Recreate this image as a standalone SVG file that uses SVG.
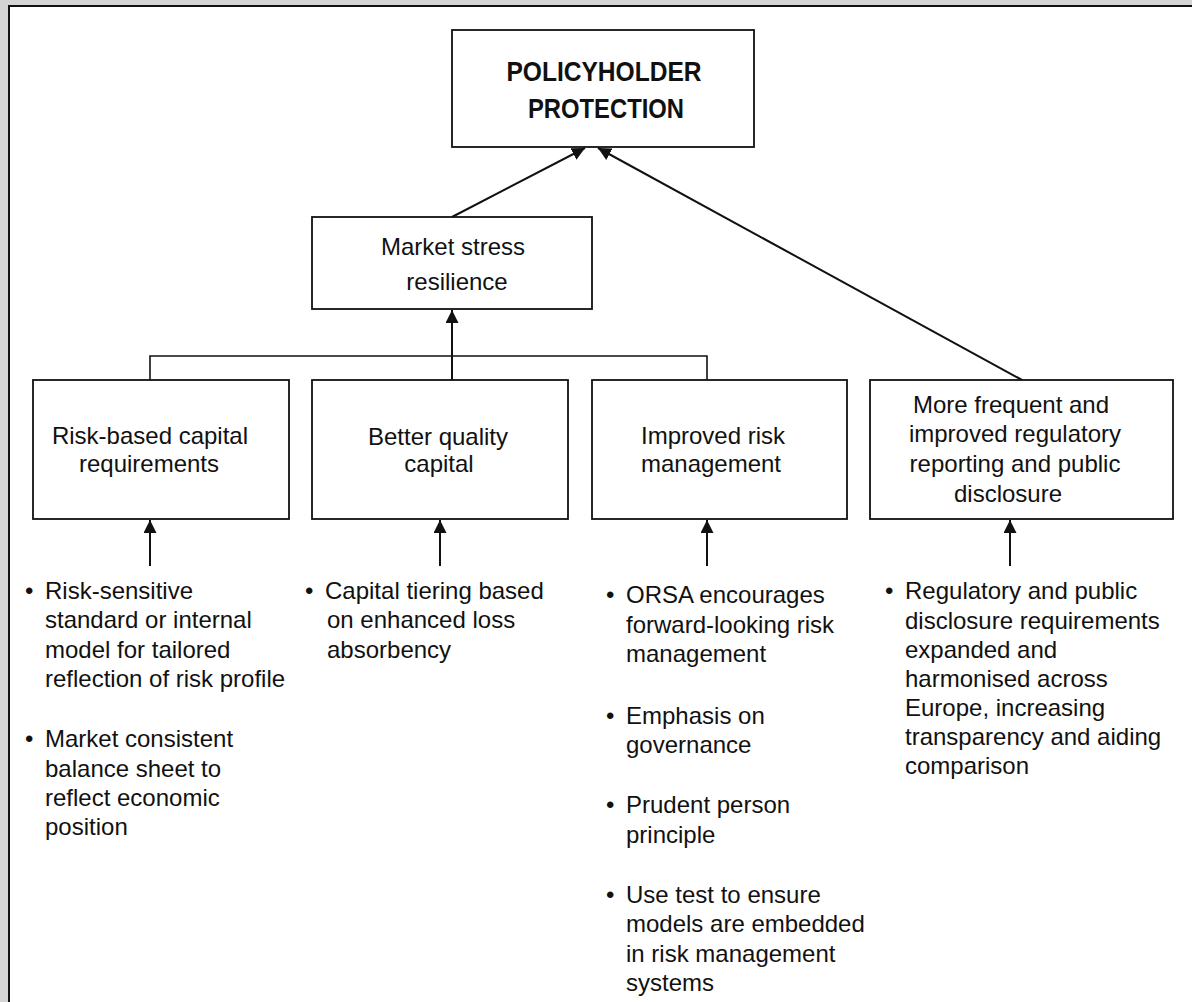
<svg xmlns="http://www.w3.org/2000/svg" width="1192" height="1002" viewBox="0 0 1192 1002">
<style>
.box{fill:#fff;stroke:#111;stroke-width:1.8}
.lbl{font-family:"Liberation Sans",Arial,sans-serif;font-size:24px;fill:#111;text-anchor:middle}
.title{font-family:"Liberation Sans",Arial,sans-serif;font-size:28px;font-weight:bold;fill:#111;text-anchor:middle}
.txt{font-family:"Liberation Sans",Arial,sans-serif;font-size:24px;fill:#111}
.arr{fill:none;stroke:#111;stroke-width:2;marker-end:url(#ah)}
.ln{fill:none;stroke:#111;stroke-width:1.6}
</style>
<defs>
<marker id="ah" markerUnits="userSpaceOnUse" markerWidth="14" markerHeight="13" refX="13" refY="6.5" orient="auto">
<path d="M0,0 L13,6.5 L0,13 z" fill="#111"/>
</marker>
</defs>
<rect x="0" y="0" width="1192" height="1002" fill="#d4d4d4"/>
<rect x="9" y="6" width="1200" height="1010" fill="#fff" stroke="#111" stroke-width="2"/>

<g id="connectors">
<line class="arr" x1="452" y1="217" x2="585" y2="148"/>
<line class="arr" x1="1022" y1="380" x2="598" y2="148"/>
<polyline class="ln" points="150,380 150,356 707,356 707,380"/>
<line class="arr" x1="452" y1="380" x2="452" y2="310"/>
<line class="arr" x1="150" y1="566" x2="150" y2="520"/>
<line class="arr" x1="440" y1="566" x2="440" y2="520"/>
<line class="arr" x1="707" y1="566" x2="707" y2="520"/>
<line class="arr" x1="1010" y1="566" x2="1010" y2="520"/>
</g>

<g id="policyholder">
<rect class="box" x="452" y="30" width="302" height="117"/>
<text class="title" x="604" y="81" textLength="195" lengthAdjust="spacingAndGlyphs">POLICYHOLDER</text>
<text class="title" x="606" y="118" textLength="156" lengthAdjust="spacingAndGlyphs">PROTECTION</text>
</g>

<g id="market">
<rect class="box" x="312" y="217" width="280" height="92"/>
<text class="lbl" x="453" y="255">Market stress</text>
<text class="lbl" x="457" y="290">resilience</text>
</g>

<g id="riskcap">
<rect class="box" x="33" y="380" width="256" height="139"/>
<text class="lbl" x="150" y="444">Risk-based capital</text>
<text class="lbl" x="149" y="472">requirements</text>
</g>

<g id="better">
<rect class="box" x="312" y="380" width="256" height="139"/>
<text class="lbl" x="438" y="445">Better quality</text>
<text class="lbl" x="439" y="472">capital</text>
</g>

<g id="improved">
<rect class="box" x="592" y="380" width="255" height="139"/>
<text class="lbl" x="713" y="444">Improved risk</text>
<text class="lbl" x="711" y="472">management</text>
</g>

<g id="reporting">
<rect class="box" x="870" y="380" width="303" height="139"/>
<text class="lbl" x="1011" y="413">More frequent and</text>
<text class="lbl" x="1015" y="442">improved regulatory</text>
<text class="lbl" x="1015" y="472">reporting and public</text>
<text class="lbl" x="1008" y="502">disclosure</text>
</g>

<g id="bullets-riskcap" class="txt">
<text x="25" y="599">•</text>
<text x="45" y="599">Risk-sensitive</text>
<text x="45" y="628.3">standard or internal</text>
<text x="45" y="657.5">model for tailored</text>
<text x="45" y="686.7">reflection of risk profile</text>
<text x="25" y="747.3">•</text>
<text x="45" y="747.3">Market consistent</text>
<text x="45" y="776.5">balance sheet to</text>
<text x="45" y="805.7">reflect economic</text>
<text x="45" y="835">position</text>
</g>

<g id="bullets-better" class="txt">
<text x="305" y="599">•</text>
<text x="325" y="599">Capital tiering based</text>
<text x="327" y="628.3">on enhanced loss</text>
<text x="327" y="657.5">absorbency</text>
</g>

<g id="bullets-improved" class="txt">
<text x="606" y="603">•</text>
<text x="626" y="603">ORSA encourages</text>
<text x="626" y="632.5">forward-looking risk</text>
<text x="626" y="662">management</text>
<text x="606" y="724">•</text>
<text x="626" y="724">Emphasis on</text>
<text x="626" y="753">governance</text>
<text x="606" y="813">•</text>
<text x="626" y="813">Prudent person</text>
<text x="626" y="842.5">principle</text>
<text x="606" y="902.5">•</text>
<text x="626" y="902.5">Use test to ensure</text>
<text x="626" y="932">models are embedded</text>
<text x="626" y="961.5">in risk management</text>
<text x="626" y="991">systems</text>
</g>

<g id="bullets-reporting" class="txt">
<text x="885" y="599">•</text>
<text x="905" y="599">Regulatory and public</text>
<text x="905" y="628.5">disclosure requirements</text>
<text x="905" y="657.5">expanded and</text>
<text x="905" y="687">harmonised across</text>
<text x="905" y="716">Europe, increasing</text>
<text x="905" y="745">transparency and aiding</text>
<text x="905" y="774">comparison</text>
</g>
</svg>
